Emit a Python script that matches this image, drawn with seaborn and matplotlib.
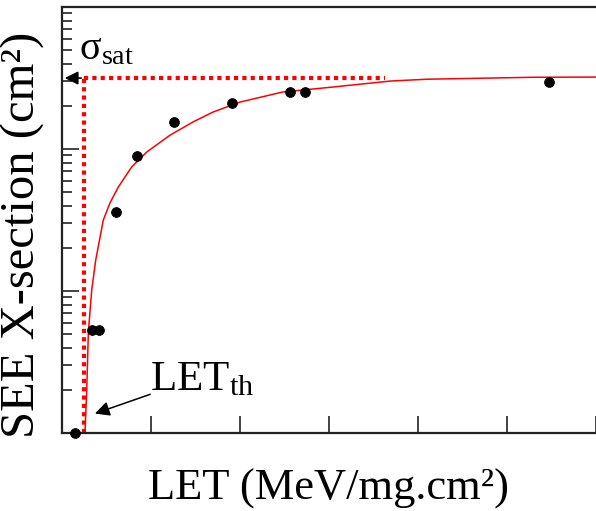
import numpy as np
import pandas as pd
import matplotlib
matplotlib.use('Agg')
import matplotlib.pyplot as plt
from matplotlib.ticker import LogLocator, NullFormatter, MultipleLocator
import seaborn as sns

let_points = [1.46, 3.37, 4.16, 6.12, 8.39, 12.6, 19.1, 25.6, 27.3, 54.7]
xs_points = [0.1, 0.53, 0.53, 3.6, 8.9, 15.6, 21.0, 25.1, 25.1, 29.8]

# Weibull fit curve
let_fit = [2.58, 2.78, 2.96, 3.34, 3.79, 4.64, 5.39, 6.33, 7.83, 9.52, 12.13,
           14.72, 16.97, 20.0, 24.8, 30.4, 36.9, 41.0, 52.9, 60.0]
xs_fit = [0.1, 0.20, 0.51, 1.02, 1.65, 3.16, 4.17, 5.40, 7.47, 9.52, 12.5,
          15.5, 18.2, 21.4, 25.2, 27.3, 30.1, 31.0, 32.0, 32.1]

# saturation level and threshold
sigma_sat = 31.6
let_th = 2.47
sat_line_end = 36.3

sns.set_theme(style='ticks')
plt.rcParams['font.family'] = ['Liberation Serif', 'DejaVu Serif']
plt.rcParams['mathtext.fontset'] = 'custom'
plt.rcParams['mathtext.rm'] = 'Liberation Serif'
plt.rcParams['text.color'] = 'black'
plt.rcParams['axes.labelcolor'] = 'black'

fig = plt.figure(figsize=(5.96, 5.11), dpi=100)
ax = fig.add_axes([62 / 596, 78 / 511, 1 - 62 / 596, (433 - 7) / 511])

pts = pd.DataFrame({'LET': let_points, 'XS': xs_points})
fit = pd.DataFrame({'LET': let_fit, 'XS': xs_fit})

sns.lineplot(data=fit, x='LET', y='XS', color='red', linewidth=1.1, ax=ax)
sns.scatterplot(data=pts, x='LET', y='XS', color='black', s=50, marker='o',
                edgecolor='black', ax=ax, clip_on=False, zorder=5)

# dotted guide lines
ax.plot([let_th, let_th], [0.1, sigma_sat], color='red', lw=3, linestyle=(0, (1, 1)))
ax.plot([let_th, sat_line_end], [sigma_sat, sigma_sat], color='red', lw=3,
        linestyle=(0, (1, 1)))

ax.set_yscale('log')
ax.set_xlim(0, 60)
ax.set_ylim(0.1, 100)
ax.xaxis.set_major_locator(MultipleLocator(10))
ax.yaxis.set_major_locator(LogLocator(base=10))
ax.yaxis.set_minor_locator(LogLocator(base=10, subs=np.arange(2, 10)))
ax.xaxis.set_major_formatter(NullFormatter())
ax.yaxis.set_major_formatter(NullFormatter())
ax.yaxis.set_minor_formatter(NullFormatter())
ax.tick_params(axis='both', which='major', direction='in', length=12, width=1.2,
               color='#222222')
ax.tick_params(axis='y', which='minor', direction='in', length=7, width=1.2,
               color='#222222')
ax.tick_params(top=False, right=False)

for side in ['left', 'bottom', 'top']:
    ax.spines[side].set_linewidth(1.6)
    ax.spines[side].set_color('#222222')
ax.spines['right'].set_visible(False)

# annotations
ax.annotate('', xy=(0.0, sigma_sat), xytext=(let_th, sigma_sat),
            arrowprops=dict(arrowstyle='-|>', color='black', lw=1.2,
                            mutation_scale=20), annotation_clip=False)
ax.text(1.9, 43, r'$\mathregular{σ_{sat}}$', fontsize=29, color='black')
ax.annotate('', xy=(3.4, 0.135), xytext=(10.2, 0.19),
            arrowprops=dict(arrowstyle='-|>', color='black', lw=1.1,
                            mutation_scale=22))
ax.text(9.9, 0.2, r'$\mathregular{LET_{th}}$', fontsize=31, color='black')

ax.set_xlabel('LET (MeV/mg.cm²)', fontsize=32, labelpad=22)
ax.set_ylabel('SEE X-section (cm²)', fontsize=35)
ax.yaxis.set_label_coords(-0.031, 0.465)

fig.savefig('out.png', dpi=100)
